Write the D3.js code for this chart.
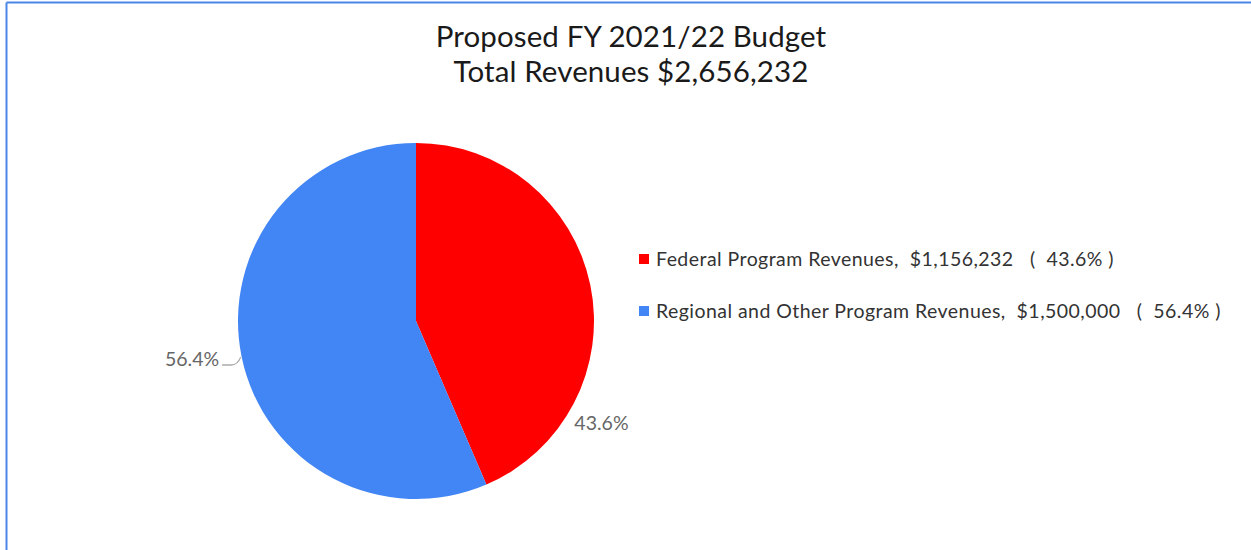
<!DOCTYPE html>
<html lang="en">
<head>
<meta charset="UTF-8">
<script src="https://cdnjs.cloudflare.com/ajax/libs/d3/7.8.4/d3.min.js"></script>
<title>Budget</title>
<style>
  body { margin: 0; background: #fff; }
  text { font-family: Lato, "Open Sans", sans-serif; }
</style>
</head>
<body>
<script>
const categories = ["Federal Program Revenues", "Regional and Other Program Revenues"]
const amounts = [1156232, 1500000]
const pctLabels = ["43.6%", "56.4%"]   // as printed on the chart
const colors = ["#ff0000", "#4285f4"]
const titleLines = ["Proposed FY 2021/22 Budget", "Total Revenues $2,656,232"]

const width = 1251, height = 550
const cx = 416, cy = 321, radius = 178

let svg = d3.select("body").append("svg")
  .attr("width", width)
  .attr("height", height)

// frame (only top and left edges show)
svg.append("line").attr("x1", 6.5).attr("y1", 2.5).attr("x2", width).attr("y2", 2.5)
  .attr("stroke", "#4a86e8").attr("stroke-width", 2)
svg.append("line").attr("x1", 6.5).attr("y1", 2.5).attr("x2", 6.5).attr("y2", height)
  .attr("stroke", "#4a86e8").attr("stroke-width", 2)

svg.selectAll("text.title").data(titleLines).enter().append("text")
  .attr("class", "title")
  .attr("x", 631)
  .attr("y", (d, i) => 47 + i * 35)
  .attr("text-anchor", "middle")
  .attr("font-size", 29.5)
  .attr("letter-spacing", 0.1)
  .attr("fill", "#1a1a1a")
  .text(d => d)

let theData = categories.map((c, i) => ({ name: c, value: amounts[i], color: colors[i], pct: pctLabels[i] }))

let pie = d3.pie().sort(null).value(d => d.value)
let arcs = pie(theData)
let arc = d3.arc().innerRadius(0).outerRadius(radius)

let g = svg.append("g").attr("transform", `translate(${cx},${cy})`)

g.selectAll("path.slice").data(arcs).enter().append("path")
  .attr("class", "slice")
  .attr("d", arc)
  .attr("fill", d => d.data.color)

// labels: blue sits at its mid angle with a leader, red is pushed down below the legend
let labelShift = [0.71, 0]
arcs.forEach((d, i) => {
  let a = (d.startAngle + d.endAngle) / 2 + labelShift[i]
  let sx = Math.sin(a), sy = -Math.cos(a)
  if (i === 1) {
    let p0 = [sx * (radius + 1), sy * (radius + 1)]
    let p1 = [sx * (radius + 20), sy * (radius + 20) + 4]
    g.append("path")
      .attr("d", `M${p1[0]},${p1[1]} L${p1[0] + 9},${p1[1]} Q${p0[0] - 3},${p1[1]} ${p0[0]},${p0[1]}`)
      .attr("fill", "none").attr("stroke", "#aaa").attr("stroke-width", 1.3)
    g.append("text")
      .attr("x", p1[0] - 3).attr("y", p1[1] + 1)
      .attr("text-anchor", "end")
      .attr("font-size", 19.5).attr("fill", "#666")
      .text(d.data.pct)
  } else {
    let r = radius + 34
    g.append("text")
      .attr("x", sx * r - 27).attr("y", sy * r + 6)
      .attr("text-anchor", "start")
      .attr("font-size", 19.5).attr("fill", "#666")
      .text(d.data.pct)
  }
})

// legend
let legend = svg.selectAll("g.legend").data(arcs).enter().append("g")
  .attr("class", "legend")
  .attr("transform", (d, i) => `translate(639, ${259 + i * 52})`)
legend.append("rect")
  .attr("x", 0).attr("y", -5).attr("width", 10).attr("height", 10)
  .attr("fill", d => d.data.color)
legend.append("text")
  .attr("x", 17).attr("y", 7)
  .attr("font-size", 19.5).attr("fill", "#333")
  .attr("letter-spacing", 0.45)
  .style("white-space", "pre")
  .text(d => `${d.data.name},  ${d3.format("$,")(d.data.value)}   (  ${d.data.pct} )`)
</script>
</body>
</html>
